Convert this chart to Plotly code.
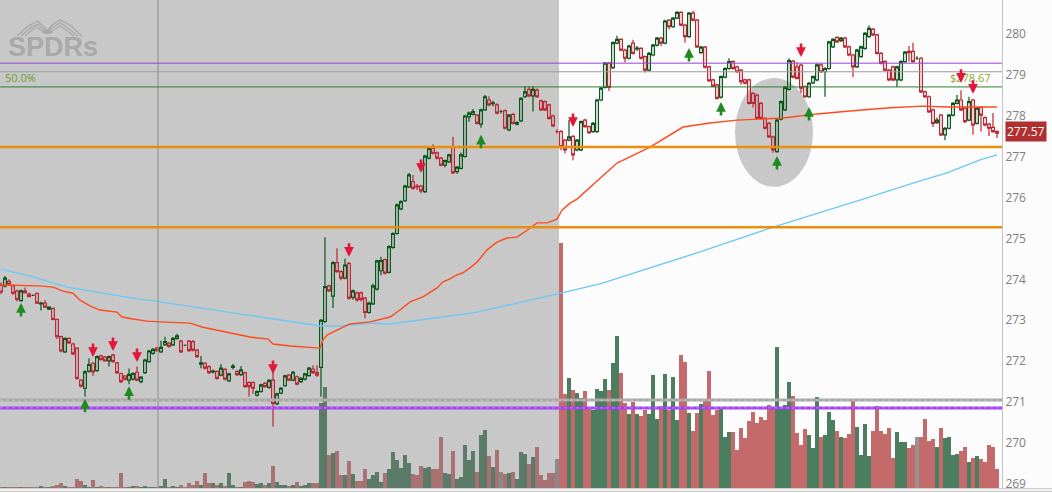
import plotly.graph_objects as go

# intraday bars (index 0..249)
opens = [
    273.86, 273.84, 273.95, 273.84, 273.71, 273.48, 273.72, 273.64, 273.61, 273.66,
    273.40, 273.42, 273.27, 273.29, 273.02, 272.60, 272.23, 272.56, 272.42, 272.32,
    271.54, 271.34, 271.76, 271.95, 271.77, 272.13, 272.10, 272.01, 272.15, 271.96,
    271.70, 271.64, 271.54, 271.56, 271.73, 271.50, 271.72, 271.99, 272.19, 272.32,
    272.23, 272.40, 272.44, 272.40, 272.55, 272.49, 272.39, 272.49, 272.48, 272.27,
    271.93, 271.95, 271.87, 271.74, 271.75, 271.66, 271.80, 271.52, 271.85, 271.75,
    271.67, 271.72, 271.48, 271.48, 271.17, 271.26, 271.46, 271.36, 271.54, 270.96,
    271.22, 271.40, 271.66, 271.54, 271.62, 271.50, 271.56, 271.65, 271.81, 271.72,
    271.85, 272.97, 273.84, 273.59, 274.41, 274.19, 274.03, 274.39, 273.56, 273.67,
    273.67, 273.54, 273.19, 273.40, 273.76, 274.21, 274.48, 274.17, 274.78, 275.12,
    275.72, 275.92, 276.26, 276.39, 276.28, 276.28, 276.14, 276.96, 277.20, 277.09,
    276.96, 276.79, 276.87, 277.24, 276.63, 276.71, 277.00, 277.97, 278.03, 278.01,
    277.79, 278.14, 278.38, 278.29, 278.26, 278.10, 278.12, 277.65, 278.03, 277.79,
    277.87, 278.46, 278.64, 278.48, 278.62, 278.36, 278.34, 278.26, 277.99, 277.61,
    277.61, 277.40, 277.40, 277.49, 277.16, 277.16, 277.89, 277.73, 277.61, 277.61,
    278.38, 278.69, 279.28, 279.17, 279.77, 279.86, 279.60, 279.40, 279.77, 279.63,
    279.64, 279.44, 279.11, 279.48, 279.72, 279.89, 279.77, 280.33, 280.17, 280.38,
    280.52, 280.21, 279.93, 280.50, 280.33, 279.54, 279.67, 279.19, 278.87, 278.75,
    278.45, 278.94, 279.15, 279.32, 279.19, 279.11, 278.87, 278.87, 278.54, 278.50,
    278.30, 277.93, 277.81, 277.48, 277.12, 277.91, 278.14, 278.64, 279.33, 279.19,
    279.23, 278.71, 278.46, 278.80, 278.87, 279.24, 279.07, 279.15, 279.68, 279.91,
    279.83, 279.89, 279.68, 279.48, 279.19, 279.44, 279.64, 279.93, 280.11, 279.97,
    279.52, 279.32, 279.11, 279.19, 278.87, 278.87, 279.32, 279.57, 279.57, 279.40,
    279.40, 278.58, 278.46, 278.14, 277.83, 278.01, 277.53, 277.69, 278.01, 278.30,
    278.38, 278.18, 277.89, 278.38, 277.81, 278.20, 277.95, 277.79, 277.71, 277.61,
]
highs = [
    273.92, 274.08, 274.00, 273.88, 273.75, 273.75, 273.80, 273.68, 273.63, 273.68,
    273.45, 273.49, 273.34, 273.31, 273.04, 272.62, 272.58, 272.58, 272.45, 272.34,
    271.56, 271.78, 272.07, 271.98, 272.14, 272.16, 272.13, 272.14, 272.18, 271.98,
    271.72, 271.66, 271.82, 271.73, 271.87, 271.63, 272.06, 272.28, 272.32, 272.35,
    272.50, 272.60, 272.47, 272.59, 272.67, 272.52, 272.41, 272.52, 272.52, 272.30,
    272.13, 271.98, 271.90, 271.80, 271.78, 271.93, 271.83, 271.72, 271.93, 271.78,
    271.88, 271.75, 271.51, 271.51, 271.29, 271.45, 271.49, 271.56, 271.75, 271.23,
    271.37, 271.67, 271.69, 271.76, 271.65, 271.61, 271.72, 271.86, 271.90, 271.90,
    273.03, 275.03, 273.87, 274.44, 274.76, 274.22, 274.50, 274.42, 273.75, 273.70,
    273.70, 273.57, 273.45, 273.90, 274.48, 274.55, 274.51, 274.83, 275.15, 275.85,
    275.93, 276.31, 276.60, 276.55, 276.33, 276.31, 277.04, 277.23, 277.30, 277.12,
    276.99, 276.93, 277.07, 277.48, 276.77, 277.10, 278.02, 278.10, 278.16, 278.04,
    278.17, 278.50, 278.47, 278.36, 278.30, 278.14, 278.15, 278.04, 278.06, 277.86,
    278.45, 278.72, 278.72, 278.72, 278.66, 278.39, 278.37, 278.29, 278.02, 277.66,
    277.65, 277.43, 277.90, 277.52, 277.43, 277.88, 277.92, 277.76, 277.84, 278.41,
    278.70, 279.31, 279.31, 279.81, 279.95, 279.89, 279.63, 279.73, 279.85, 279.70,
    279.67, 279.47, 279.55, 279.75, 279.92, 279.92, 280.34, 280.36, 280.41, 280.55,
    280.55, 280.24, 280.53, 280.56, 280.36, 279.70, 279.70, 279.22, 278.90, 278.78,
    278.98, 279.18, 279.40, 279.35, 279.22, 279.14, 278.90, 278.90, 278.57, 278.53,
    278.33, 277.96, 277.84, 277.51, 277.92, 278.37, 278.72, 279.40, 279.36, 279.30,
    279.26, 278.74, 278.82, 278.98, 279.27, 279.27, 279.18, 279.83, 279.89, 279.94,
    279.92, 279.92, 279.71, 279.51, 279.63, 279.71, 280.04, 280.20, 280.14, 280.00,
    279.55, 279.35, 279.14, 279.22, 279.22, 279.35, 279.58, 279.70, 279.78, 279.45,
    279.43, 278.61, 278.49, 278.17, 277.95, 278.04, 277.72, 278.04, 278.33, 278.50,
    278.62, 278.21, 278.46, 278.41, 278.21, 278.23, 277.98, 277.82, 278.06, 277.64,
]
lows = [
    273.64, 273.80, 273.85, 273.62, 273.46, 273.45, 273.66, 273.56, 273.59, 273.40,
    273.24, 273.30, 273.25, 273.00, 272.54, 272.22, 272.20, 272.42, 272.15, 271.55,
    271.36, 271.14, 271.72, 271.64, 271.74, 272.02, 271.99, 271.87, 271.96, 271.69,
    271.47, 271.53, 271.44, 271.53, 271.51, 271.46, 271.69, 271.96, 272.16, 272.23,
    272.20, 272.38, 272.33, 272.37, 272.53, 272.20, 272.37, 272.23, 272.24, 272.08,
    271.83, 271.80, 271.69, 271.70, 271.55, 271.63, 271.53, 271.49, 271.80, 271.64,
    271.64, 271.35, 271.13, 271.20, 271.14, 271.23, 271.35, 271.33, 270.40, 270.93,
    271.19, 271.37, 271.51, 271.51, 271.41, 271.47, 271.53, 271.62, 271.69, 271.62,
    271.13, 272.93, 273.69, 273.30, 274.16, 273.98, 274.00, 273.50, 273.50, 273.45,
    273.46, 273.05, 273.16, 273.37, 273.73, 274.10, 274.12, 274.14, 274.75, 275.09,
    275.69, 275.89, 276.23, 276.19, 276.18, 276.10, 276.11, 276.93, 277.05, 276.93,
    276.76, 276.74, 276.84, 276.57, 276.58, 276.68, 276.97, 277.85, 278.00, 277.78,
    277.70, 278.11, 278.23, 278.22, 278.03, 278.05, 277.66, 277.62, 277.78, 277.76,
    277.84, 278.43, 278.45, 278.10, 278.43, 278.11, 278.11, 277.90, 277.72, 277.56,
    277.15, 277.08, 277.37, 276.91, 277.13, 277.13, 277.70, 277.55, 277.58, 277.58,
    278.35, 278.66, 278.60, 279.14, 279.74, 279.57, 279.30, 279.37, 279.49, 279.58,
    279.37, 279.05, 279.08, 279.45, 279.69, 279.70, 279.74, 280.10, 280.14, 280.35,
    280.18, 279.78, 279.90, 280.30, 279.65, 279.51, 279.15, 278.82, 278.69, 278.39,
    278.42, 278.91, 279.12, 279.12, 279.04, 278.75, 278.76, 278.27, 278.20, 277.90,
    277.90, 277.66, 277.45, 277.09, 277.09, 277.88, 278.11, 278.61, 278.91, 278.88,
    278.55, 278.43, 278.43, 278.77, 278.84, 279.04, 278.46, 279.12, 279.65, 279.77,
    279.80, 279.65, 279.45, 278.94, 279.16, 279.41, 279.61, 279.90, 279.94, 279.49,
    279.25, 279.08, 278.84, 278.84, 278.70, 278.84, 279.29, 279.32, 279.29, 279.36,
    278.55, 278.43, 278.06, 277.72, 277.80, 277.50, 277.40, 277.66, 277.98, 278.27,
    278.11, 277.82, 277.86, 277.53, 277.78, 277.61, 277.74, 277.50, 277.58, 277.45,
]
closes = [
    273.69, 274.03, 273.88, 273.66, 273.51, 273.72, 273.67, 273.58, 273.61, 273.42,
    273.42, 273.32, 273.32, 273.02, 272.60, 272.25, 272.56, 272.45, 272.18, 271.58,
    271.39, 271.74, 271.92, 271.74, 272.11, 272.04, 272.01, 272.11, 271.99, 271.72,
    271.50, 271.56, 271.68, 271.70, 271.54, 271.61, 272.03, 272.25, 272.29, 272.26,
    272.34, 272.48, 272.36, 272.56, 272.62, 272.23, 272.39, 272.26, 272.27, 272.11,
    271.96, 271.83, 271.72, 271.76, 271.58, 271.83, 271.56, 271.69, 271.88, 271.67,
    271.79, 271.38, 271.38, 271.34, 271.26, 271.42, 271.38, 271.53, 270.97, 271.20,
    271.34, 271.64, 271.54, 271.73, 271.44, 271.58, 271.69, 271.83, 271.72, 271.66,
    273.00, 273.82, 273.72, 274.41, 274.19, 274.03, 274.35, 273.54, 273.72, 273.50,
    273.51, 273.19, 273.42, 273.84, 274.45, 274.46, 274.15, 274.80, 275.12, 275.82,
    275.90, 276.28, 276.55, 276.22, 276.26, 276.16, 277.01, 277.20, 277.08, 276.96,
    276.79, 276.90, 277.04, 276.60, 276.74, 277.04, 277.99, 278.06, 278.10, 277.81,
    278.14, 278.46, 278.26, 278.31, 278.06, 278.10, 277.69, 278.01, 277.81, 277.83,
    278.42, 278.58, 278.48, 278.64, 278.46, 278.14, 278.14, 277.93, 277.75, 277.61,
    277.24, 277.16, 277.48, 277.04, 277.40, 277.85, 277.73, 277.58, 277.81, 278.38,
    278.67, 279.28, 278.69, 279.78, 279.86, 279.60, 279.40, 279.70, 279.52, 279.65,
    279.40, 279.11, 279.52, 279.72, 279.89, 279.77, 280.31, 280.17, 280.38, 280.52,
    280.21, 279.93, 280.50, 280.33, 279.68, 279.67, 279.18, 278.85, 278.72, 278.42,
    278.95, 279.15, 279.32, 279.15, 279.07, 278.83, 278.79, 278.30, 278.30, 277.93,
    277.93, 277.69, 277.48, 277.16, 277.89, 278.34, 278.69, 279.34, 278.94, 278.91,
    278.67, 278.46, 278.79, 278.95, 279.24, 279.07, 279.15, 279.80, 279.86, 279.80,
    279.89, 279.68, 279.48, 279.19, 279.60, 279.68, 280.01, 280.13, 279.97, 279.52,
    279.28, 279.11, 278.87, 278.87, 279.19, 279.32, 279.55, 279.54, 279.32, 279.40,
    278.58, 278.46, 278.09, 277.81, 277.89, 277.53, 277.69, 278.01, 278.30, 278.38,
    278.14, 277.85, 278.34, 277.77, 278.18, 278.01, 277.77, 277.69, 277.61, 277.57,
]
volumes = [
    10, 10, 5, 10, 10, 5, 5, 5, 5, 10,
    20, 10, 5, 20, 30, 50, 20, 10, 10, 90,
    70, 30, 10, 80, 10, 20, 10, 10, 10, 10,
    150, 10, 10, 20, 20, 10, 20, 10, 10, 10,
    20, 90, 10, 20, 10, 30, 10, 50, 30, 70,
    30, 150, 50, 50, 30, 50, 20, 150, 30, 10,
    10, 60, 70, 60, 40, 50, 30, 50, 220, 60,
    30, 30, 20, 30, 60, 20, 30, 50, 50, 50,
    850, 1010, 330, 350, 370, 130, 130, 270, 140, 70,
    70, 190, 90, 130, 160, 60, 150, 190, 360, 280,
    200, 330, 250, 140, 130, 220, 200, 210, 190, 190,
    510, 150, 140, 370, 90, 110, 430, 280, 370, 160,
    530, 580, 320, 210, 380, 160, 140, 150, 160, 90,
    360, 340, 240, 310, 410, 130, 80, 150, 150, 290,
    2450, 940, 1100, 980, 950, 900, 970, 800, 780, 990,
    970, 1090, 980, 1250, 1520, 1150, 850, 740, 860, 740,
    720, 780, 740, 1130, 690, 820, 1140, 780, 1110, 680,
    1330, 1260, 750, 570, 750, 840, 880, 1170, 730, 780,
    790, 510, 560, 560, 380, 600, 500, 670, 760, 650,
    710, 680, 830, 800, 1410, 800, 830, 1060, 920, 550,
    430, 590, 530, 400, 910, 510, 530, 760, 680, 570,
    510, 500, 540, 870, 610, 330, 640, 320, 570, 820,
    570, 540, 600, 300, 560, 460, 460, 400, 430, 510,
    510, 690, 470, 490, 410, 600, 500, 510, 330, 340,
    370, 410, 260, 300, 320, 290, 260, 430, 410, 190,
]

# moving averages, sampled along the curves
ma_red_x = [0, 9.75, 13, 15.5, 18, 19.75, 22.25, 24.75, 29, 30.25, 33, 36.5, 39.75,
            47.25, 50.5, 54, 58, 62.25, 66.75, 68, 72.25, 76.5, 79.75, 80.5, 81.5,
            84, 87.25, 92.25, 95.5, 97.25, 99.75, 102.25, 105.5, 109, 110.5, 112.25,
            114, 115.5, 117.25, 119, 121.5, 124, 126.5, 129, 131.5, 134, 136.5, 139,
            140.25, 142.25, 144, 149, 154, 162.25, 170.5, 177.25, 184, 195.5, 204,
            212.25, 222.25, 230.5, 236.5, 249]
ma_red_y = [273.86, 273.84, 273.81, 273.71, 273.66, 273.49, 273.35, 273.25, 273.20,
            273.08, 273.03, 272.98, 272.96, 272.93, 272.83, 272.76, 272.69, 272.59,
            272.54, 272.42, 272.37, 272.35, 272.32, 272.52, 272.64, 272.76, 272.91,
            272.96, 273.03, 273.08, 273.25, 273.45, 273.57, 273.79, 273.94, 274.01,
            274.11, 274.16, 274.28, 274.42, 274.72, 274.91, 275.01, 275.03, 275.20,
            275.38, 275.38, 275.47, 275.69, 275.86, 275.96, 276.40, 276.84, 277.23,
            277.72, 277.82, 277.89, 277.94, 278.04, 278.11, 278.19, 278.23, 278.21,
            278.21]
ma_blue_x = [0, 8, 16.5, 24.75, 33, 39.75, 49.75, 58, 66.5, 74.75, 79.75, 84.75, 93,
             97.25, 105.5, 118, 130.5, 139.75, 149.75, 174.75, 192.25, 215.5, 222.25,
             228, 236.5, 244.75, 249]
ma_blue_y = [274.25, 274.06, 273.81, 273.67, 273.54, 273.45, 273.30, 273.18, 273.05,
             272.93, 272.86, 272.86, 272.93, 272.91, 273.01, 273.18, 273.45, 273.67,
             273.89, 274.67, 275.25, 275.96, 276.18, 276.35, 276.60, 276.92, 277.04]

# signal arrows (bar index, price at the arrow tip)
buy_x = [5, 21, 32, 120, 172, 180, 194, 202]
buy_y = [273.42, 271.08, 271.39, 277.53, 279.65, 278.33, 277.01, 278.21]
sell_x = [23, 28, 34, 68, 87, 105, 143, 200, 240, 243]
sell_y = [272.10, 272.25, 271.98, 271.69, 274.55, 276.60, 277.72, 279.43, 278.80, 278.53]

# horizontal levels
support_levels = [277.23, 275.27]
upper_levels = [(279.28, "#9442d4"), (279.07, "#9c9c9c"), (278.70, "#2e7d2e")]
lower_levels = [(271.05, "#a6a6a6"), (270.86, "#a040f0")]
fib_label_price = 278.94
target_price = 278.67
last_price = 277.57
premarket_end = 139.5
session_line = 39.25

n = len(closes)
idx = list(range(n))

vol_colors = []
for i in range(n):
    pre = i < 140
    if closes[i] > opens[i]:
        vol_colors.append("#5a7b67" if pre else "#4b7d5f")
    elif closes[i] < opens[i]:
        vol_colors.append("#a87272" if pre else "#c46a6a")
    else:
        vol_colors.append("#8a8a8a" if pre else "#939393")

fig = go.Figure()

fig.add_trace(
    go.Bar(
        x=idx,
        y=volumes,
        marker=dict(color=vol_colors, line=dict(width=0)),
        width=1.0,
        yaxis="y",
        showlegend=False,
        hoverinfo="skip",
    )
)

fig.add_trace(
    go.Scatter(
        x=ma_blue_x, y=ma_blue_y, mode="lines", yaxis="y2",
        line=dict(color="#6cc8f6", width=1.4), showlegend=False, hoverinfo="skip",
    )
)
fig.add_trace(
    go.Scatter(
        x=ma_red_x, y=ma_red_y, mode="lines", yaxis="y2",
        line=dict(color="#ff4a1c", width=1.4), showlegend=False, hoverinfo="skip",
    )
)

fig.add_trace(
    go.Candlestick(
        x=idx,
        open=opens,
        high=highs,
        low=lows,
        close=closes,
        yaxis="y2",
        whiskerwidth=0,
        increasing=dict(line=dict(color="#07561a", width=1.2), fillcolor="rgba(0,0,0,0)"),
        decreasing=dict(line=dict(color="#bd2633", width=1.2), fillcolor="rgba(0,0,0,0)"),
        showlegend=False,
        hoverinfo="skip",
    )
)

shapes = []
# pre-market shading and highlight ellipse
shapes.append(dict(type="rect", xref="x", yref="paper", x0=-0.25, x1=premarket_end,
                   y0=0, y1=1, fillcolor="#c8c8c8", line=dict(width=0), layer="below"))
shapes.append(dict(type="circle", xref="x", yref="y2", x0=183.5, x1=203.0,
                   y0=276.26, y1=278.92, fillcolor="#c8c8c8", line=dict(width=0),
                   layer="below"))
shapes.append(dict(type="line", xref="x", yref="paper", x0=session_line, x1=session_line,
                   y0=0, y1=1, line=dict(color="#8c8c8c", width=1)))
for price, color in upper_levels:
    shapes.append(dict(type="line", xref="paper", yref="y2", x0=0, x1=1, y0=price,
                       y1=price, line=dict(color=color, width=1)))
for price in support_levels:
    shapes.append(dict(type="line", xref="paper", yref="y2", x0=0, x1=1, y0=price,
                       y1=price, line=dict(color="#e8900c", width=2.5)))
for price, color in lower_levels:
    shapes.append(dict(type="line", xref="paper", yref="y2", x0=0, x1=1, y0=price,
                       y1=price, line=dict(color=color, width=3)))
    shapes.append(dict(type="line", xref="paper", yref="y2", x0=0, x1=1, y0=price,
                       y1=price, line=dict(color="rgba(255,255,255,0.35)", width=1,
                                           dash="dot")))
# bottom rules
for yy in [-0.0014, -0.0068]:
    shapes.append(dict(type="line", xref="paper", yref="paper", x0=0, x1=1.05, y0=yy,
                       y1=yy, line=dict(color="#c4c4c4", width=1)))


# logo legs, drawn in pixel units of the plot area
def px_path(points):
    parts = []
    for k, (px, py) in enumerate(points):
        parts.append(("M" if k == 0 else "L") + f"{px / 1002:.4f},{1 - py / 488:.4f}")
    return " ".join(parts)


logo_legs = [
    [(17, 36), (28, 26), (38, 21), (44, 27), (47, 31)],
    [(21, 36), (30, 28), (38, 24), (43, 29), (46, 32)],
    [(25, 36), (32, 30), (37, 27), (42, 31)],
    [(47, 31), (52, 25), (60, 20), (70, 25), (82, 36)],
    [(48, 32), (53, 27), (60, 23), (68, 28), (78, 36)],
    [(52, 31), (60, 26), (66, 30), (74, 36)],
]
for leg in logo_legs:
    shapes.append(dict(type="path", xref="paper", yref="paper", path=px_path(leg),
                       line=dict(color="#a9a9a9", width=1.4)))
shapes.append(dict(type="circle", xref="paper", yref="paper", x0=42 / 1002, x1=53 / 1002,
                   y0=1 - 34 / 488, y1=1 - 30 / 488, fillcolor="#a9a9a9",
                   line=dict(width=0)))

annotations = []
annotations.append(dict(text="<b>SPDRs</b>", xref="paper", yref="paper", x=6 / 1002,
                        y=1 - 47 / 488, xanchor="left", yanchor="middle",
                        showarrow=False,
                        font=dict(family="Liberation Sans", size=27, color="#a9a9a9")))
annotations.append(dict(text="50.0%", xref="paper", yref="y2", x=0.003, y=fib_label_price,
                        xanchor="left", yanchor="middle", showarrow=False,
                        font=dict(size=11, color="#6f9c2f")))
annotations.append(dict(text=f"${target_price:.2f}", xref="x", yref="y2", x=236.7,
                        y=fib_label_price, xanchor="left", yanchor="middle",
                        showarrow=False, font=dict(size=11, color="#8aa82c")))
annotations.append(dict(text=f"{last_price:.2f}", xref="paper", yref="y2", x=1.003,
                        y=last_price + 0.05, xanchor="left", yanchor="middle",
                        showarrow=False, bgcolor="#b02f2f", borderpad=1,
                        font=dict(size=12, color="white")))
for x, y in zip(buy_x, buy_y):
    annotations.append(dict(x=x, y=y, xref="x", yref="y2", ax=0, ay=15, text="",
                            showarrow=True, arrowhead=2, arrowsize=0.75, arrowwidth=2.6,
                            arrowcolor="#1f8a1f"))
for x, y in zip(sell_x, sell_y):
    annotations.append(dict(x=x, y=y, xref="x", yref="y2", ax=0, ay=-15, text="",
                            showarrow=True, arrowhead=2, arrowsize=0.75, arrowwidth=2.6,
                            arrowcolor="#e3163c"))

fig.update_layout(
    width=1052,
    height=493,
    margin=dict(l=0, r=50, t=0, b=5),
    paper_bgcolor="#fcfcfc",
    plot_bgcolor="#fcfcfc",
    font=dict(family="Open Sans", size=12, color="#808080"),
    showlegend=False,
    bargap=0,
    boxgap=0,
    shapes=shapes,
    annotations=annotations,
    xaxis=dict(range=[-0.25, 250.25], visible=False, rangeslider=dict(visible=False),
               fixedrange=True),
    yaxis=dict(range=[0, 4880], visible=False, fixedrange=True),
    yaxis2=dict(
        range=[268.903, 280.823],
        overlaying="y",
        side="right",
        tickvals=list(range(269, 281)),
        showgrid=False,
        zeroline=False,
        showline=True,
        linecolor="#c4c4c4",
        ticks="",
        tickfont=dict(size=12, color="#808080"),
        fixedrange=True,
    ),
)

fig.write_html(
    "out.html",
    config={"displayModeBar": False},
    post_script="document.body.style.margin='0';document.body.style.overflow='hidden';",
)
